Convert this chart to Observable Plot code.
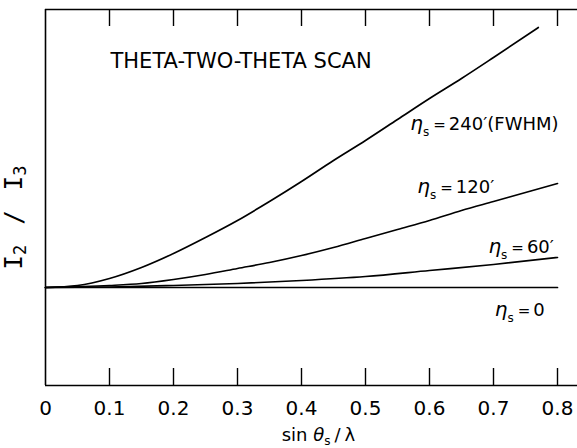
<!DOCTYPE html>
<html>
<head>
<meta charset="utf-8">
<script src="https://cdn.jsdelivr.net/npm/d3@7"></script>
<script src="https://cdn.jsdelivr.net/npm/@observablehq/plot@0.6"></script>
<style>
  html, body { margin: 0; padding: 0; background: #fff; }
  svg { display: block; }
</style>
</head>
<body>
<div id="chart"></div>
<script>
// ---- data ----
const sin240 = [0, 0.05, 0.1, 0.15, 0.2, 0.25, 0.3, 0.35, 0.4, 0.45, 0.5, 0.55, 0.6, 0.65, 0.7, 0.77];
const ratio240 = [0, 0.02, 0.09, 0.20, 0.34, 0.50, 0.67, 0.86, 1.06, 1.27, 1.47, 1.68, 1.89, 2.09, 2.30, 2.60];

const sin120 = [0, 0.1, 0.15, 0.2, 0.25, 0.3, 0.35, 0.4, 0.45, 0.5, 0.55, 0.6, 0.65, 0.7, 0.75, 0.8];
const ratio120 = [0, 0.02, 0.04, 0.08, 0.13, 0.19, 0.25, 0.32, 0.40, 0.49, 0.58, 0.67, 0.77, 0.86, 0.95, 1.04];

const sin60 = [0, 0.1, 0.2, 0.3, 0.4, 0.5, 0.6, 0.7, 0.8];
const ratio60 = [0, 0.005, 0.02, 0.04, 0.07, 0.11, 0.17, 0.23, 0.30];

const sin0 = [0, 0.8];
const ratio0 = [0, 0];

const seriesNames = ["240", "120", "60", "0"];
const labelValues = ["240′(FWHM)", "120′", "60′", "0"];
const labelX = [0.570, 0.581, 0.692, 0.702];
const labelY = [1.58, 0.95, 0.35, -0.28];

const xTicks = [0, 0.1, 0.2, 0.3, 0.4, 0.5, 0.6, 0.7, 0.8];
const xDomain = [0, 0.83125];
const yDomain = [-0.98, 2.78];

const titleText = "THETA-TWO-THETA SCAN";
const xLabelText = "sin θs / λ";
const yLabelText = "I2 / I3";
const yLabelAt = 0.70;   // vertical centre of the rotated y-axis title, in y units

// ---- build tables ----
const sets = [[sin240, ratio240], [sin120, ratio120], [sin60, ratio60], [sin0, ratio0]];
const rows = [];
sets.forEach(([xs, ys], k) => xs.forEach((x, i) => rows.push({series: seriesNames[k], x, y: ys[i]})));
const labels = labelValues.map((v, i) => ({value: v, x: labelX[i], y: labelY[i]}));

const svg = Plot.plot({
  width: 577,
  height: 448,
  marginLeft: 45,
  marginRight: 0,
  marginTop: 9,
  marginBottom: 63,
  style: {fontFamily: "'DejaVu Sans', sans-serif", fontSize: "20px", color: "black", background: "white"},
  x: {domain: xDomain},
  y: {domain: yDomain, axis: null},
  marks: [
    Plot.ruleX([xDomain[0]], {stroke: "black", strokeWidth: 1.6}),
    Plot.ruleY(yDomain, {stroke: "black", strokeWidth: 1.6}),
    Plot.tickX(xTicks.filter(d => d > 0), {x: d => d, insetTop: 359, stroke: "black", strokeWidth: 1.4}),
    Plot.tickX(xTicks.filter(d => d > 0), {x: d => d, insetBottom: 359, stroke: "black", strokeWidth: 1.4}),
    Plot.axisX({anchor: "bottom", ticks: xTicks, tickSize: 0, tickPadding: 15, label: null, fontSize: 20,
                tickFormat: d => d === 0 ? "0" : d3.format(".1f")(d)}),
    Plot.line(rows, {x: "x", y: "y", z: "series", stroke: "black", strokeWidth: 1.7, curve: "monotone-x"}),
    Plot.text(labels, {x: "x", y: "y", text: d => `ηs = ${d.value}`, textAnchor: "start", lineAnchor: "bottom",
                       fontSize: 18}),
    Plot.text([titleText], {frameAnchor: "top-left", text: d => d, dx: 65, dy: 58, textAnchor: "start",
                            lineAnchor: "bottom", fontSize: 21}),
    Plot.text([xLabelText], {frameAnchor: "bottom", text: d => d, dx: 7, dy: 55, lineAnchor: "bottom",
                             fontSize: 18}),
    Plot.text([yLabelText], {x: () => xDomain[0], y: () => yLabelAt, text: d => d, dx: -31, rotate: -90,
                             fontSize: 24, fontFamily: "'DejaVu Sans Mono', monospace"})
  ]
});

// ---- subscripts via tspans ----
d3.select(svg).selectAll("text").each(function () {
  const full = this.textContent;
  const t = d3.select(this);
  if (full.startsWith("ηs")) {
    const value = full.slice(full.indexOf("=") + 1).trim();
    t.text(null);
    t.append("tspan").attr("font-style", "italic").attr("font-size", 20).text("η");
    t.append("tspan").attr("font-size", 12).attr("dy", 6).text("s");
    t.append("tspan").attr("font-size", 15).attr("dy", -6).attr("dx", 4).text("=");
    t.append("tspan").attr("dx", 3).text(value);
  } else if (full === xLabelText) {
    t.text(null);
    t.append("tspan").text("sin ");
    t.append("tspan").attr("font-style", "italic").text("θ");
    t.append("tspan").attr("font-size", 12).attr("dy", 4).text("s");
    t.append("tspan").attr("dy", -4).attr("dx", 4).text("/");
    t.append("tspan").attr("dx", 4).text("λ");
  } else if (full === yLabelText) {
    t.text(null);
    t.append("tspan").text("I");
    t.append("tspan").attr("font-size", 17).attr("dy", 4).text("2");
    t.append("tspan").attr("dy", -4).attr("dx", 20).text("/");
    t.append("tspan").attr("dx", 20).text("I");
    t.append("tspan").attr("font-size", 17).attr("dy", 4).text("3");
  }
});

document.getElementById("chart").appendChild(svg);
</script>
</body>
</html>
